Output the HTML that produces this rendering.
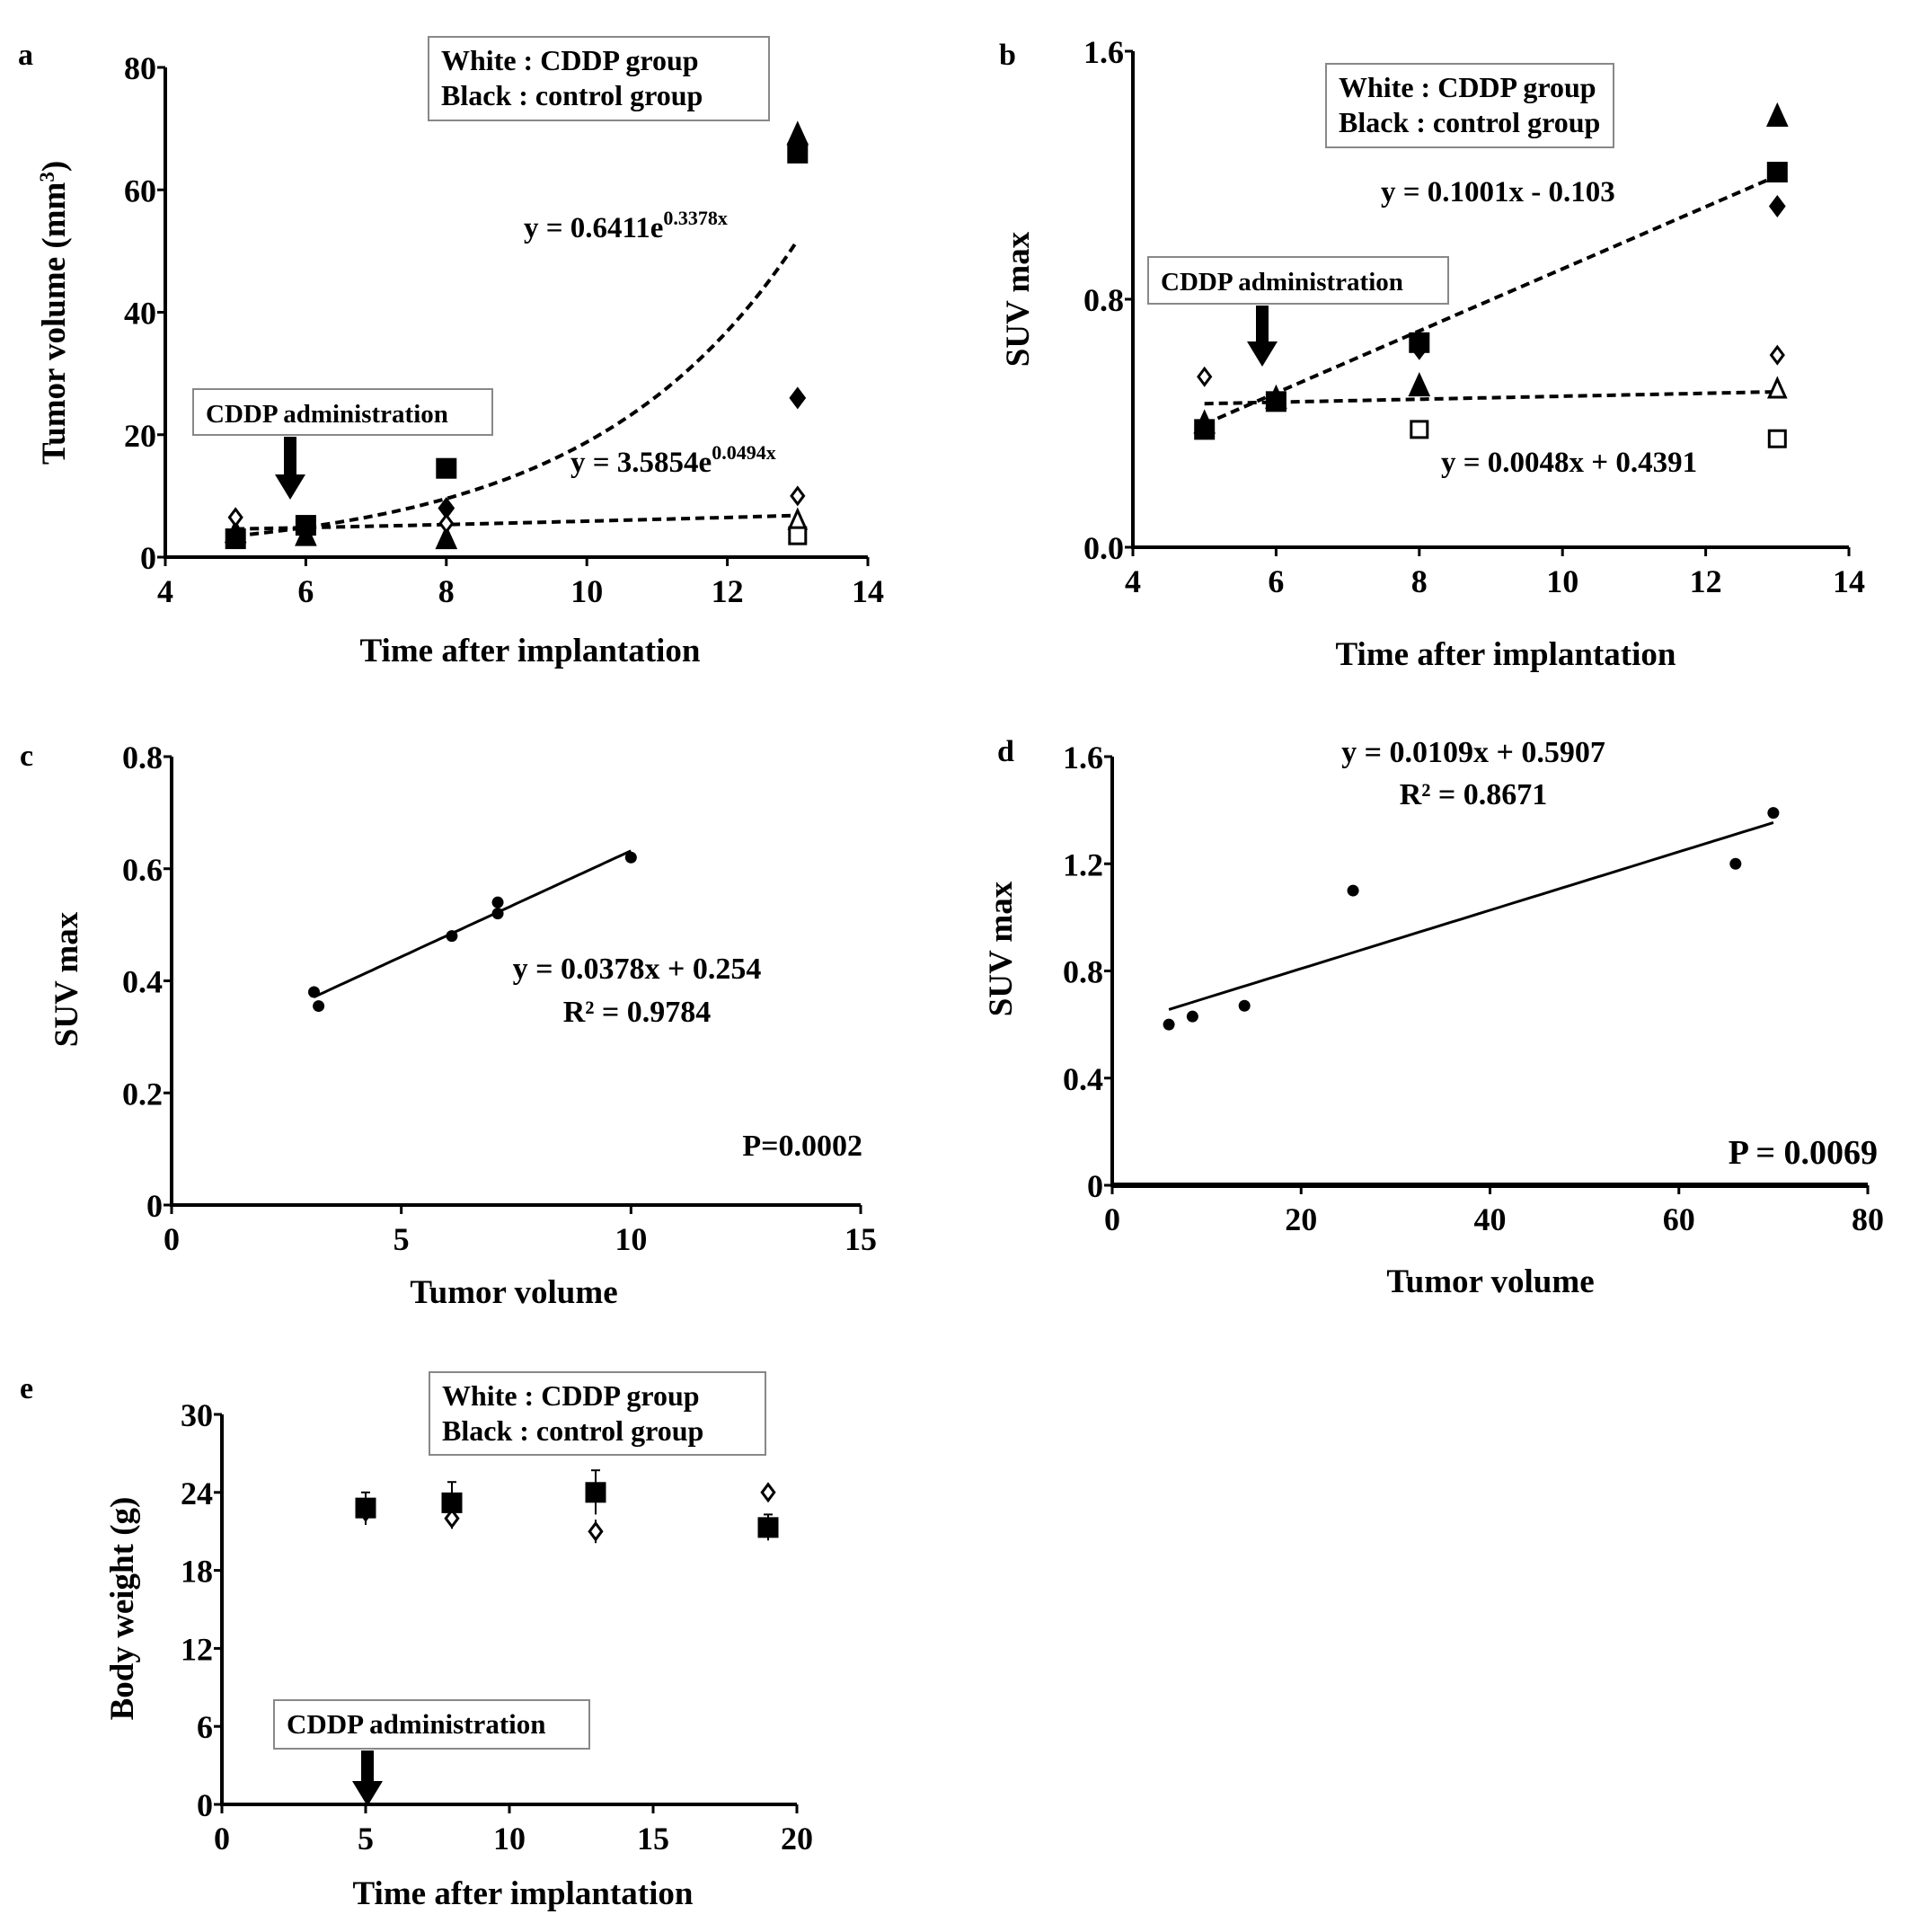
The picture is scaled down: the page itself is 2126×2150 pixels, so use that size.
<!DOCTYPE html>
<html><head><meta charset="utf-8">
<style>
html,body{margin:0;padding:0;background:#fff;}
svg{display:block;font-family:"Liberation Serif",serif;font-weight:bold;}
</style></head>
<body>
<svg id="fig" width="2126" height="2150" viewBox="0 0 2126 2150" xmlns="http://www.w3.org/2000/svg"></svg>
<script>
// ---- Panel a data ----
const aCtrlSquareX=[5,6,8,13];
const aCtrlSquareY=[3,5.2,14.5,66];
const aCtrlTriX=[5,6,8,13];
const aCtrlTriY=[4,3.5,3,69];
const aCtrlDiaX=[8,13];
const aCtrlDiaY=[8,26];
const aCddpDiaX=[5,8,13];
const aCddpDiaY=[6.5,5.5,10];
const aCddpTriX=[13];
const aCddpTriY=[6];
const aCddpSqX=[13];
const aCddpSqY=[3.5];
const aFit1=[0.6411,0.3378];
const aFit2=[3.5854,0.0494];
const aXTicks=[4,6,8,10,12,14];
const aYTicks=[0,20,40,60,80];
// ---- Panel b data ----
const bCtrlSquareX=[5,6,8,13];
const bCtrlSquareY=[0.38,0.47,0.66,1.21];
const bCtrlTriX=[5,6,8,13];
const bCtrlTriY=[0.40,0.48,0.52,1.39];
const bCtrlDiaX=[8,13];
const bCtrlDiaY=[0.64,1.10];
const bCddpDiaX=[5,13];
const bCddpDiaY=[0.55,0.62];
const bCddpTriX=[13];
const bCddpTriY=[0.51];
const bCddpSqX=[8,13];
const bCddpSqY=[0.38,0.35];
const bFit1=[0.1001,-0.103];
const bFit2=[0.0048,0.4391];
const bXTicks=[4,6,8,10,12,14];
const bYTicks=[0,0.8,1.6];
const bYLabels=["0.0","0.8","1.6"];
// ---- Panel c data ----
const cX=[3.1,3.2,6.1,7.1,7.1,10];
const cY=[0.38,0.355,0.48,0.54,0.52,0.62];
const cFit=[0.0378,0.254];
const cXTicks=[0,5,10,15];
const cYTicks=[0,0.2,0.4,0.6,0.8];
const cYLabels=["0","0.2","0.4","0.6","0.8"];
// ---- Panel d data ----
const dX=[6,8.5,14,25.5,66,70];
const dY=[0.6,0.63,0.67,1.1,1.2,1.39];
const dFit=[0.0109,0.5907];
const dXTicks=[0,20,40,60,80];
const dYTicks=[0,0.4,0.8,1.2,1.6];
const dYLabels=["0","0.4","0.8","1.2","1.6"];
// ---- Panel e data ----
const eX=[5,8,13,19];
const eCtrlY=[22.8,23.2,24.0,21.3];
const eCtrlErr=[1.2,1.6,1.7,1.0];
const eCddpY=[22.5,22.0,21.0,24.0];
const eCddpErr=[1.0,0.8,0.9,0.5];
const eXTicks=[0,5,10,15,20];
const eYTicks=[0,6,12,18,24,30];

const NS="http://www.w3.org/2000/svg";
const svg=document.getElementById('fig');
function el(tag,attrs,parent,txt){const e=document.createElementNS(NS,tag);for(const k in attrs)e.setAttribute(k,attrs[k]);if(txt!==undefined)e.textContent=txt;(parent||svg).appendChild(e);return e;}
function scale(d0,d1,r0,r1){return v=>r0+(v-d0)/(d1-d0)*(r1-r0);}

function axes(g,sx,sy,x0,x1,y0,y1,xt,yt,xl,yl,xw){
  const ax=el('line',{x1:sx(x0),y1:sy(y0),x2:sx(x1),y2:sy(y0),stroke:'#000','stroke-width':xw||4},g);
  
  const ay=el('line',{x1:sx(x0),y1:sy(y0)+2,x2:sx(x0),y2:sy(y1),stroke:'#000','stroke-width':4},g);
  
  xt.forEach((v,i)=>{el('line',{x1:sx(v),y1:sy(y0),x2:sx(v),y2:sy(y0)+10,stroke:'#000','stroke-width':3},g);
    const t=el('text',{x:sx(v),y:sy(y0)+50,'font-size':36,'text-anchor':'middle'},g,xl?xl[i]:String(v));
    });
  yt.forEach((v,i)=>{el('line',{x1:sx(x0)-9,y1:sy(v),x2:sx(x0),y2:sy(v),stroke:'#000','stroke-width':3},g);
    const t=el('text',{x:sx(x0)-10,y:sy(v)+13,'font-size':36,'text-anchor':'end'},g,yl?yl[i]:String(v));
    });
}
function marker(g,type,fill,x,y,s){
  s=s||10;let m;
  if(type==='sq')m=el('rect',{x:x-s,y:y-s,width:2*s,height:2*s,fill:fill?'#000':'#fff',stroke:'#000','stroke-width':3},g);
  else if(type==='tri')m=el('polygon',{points:`${x},${y-s-2} ${x+s},${y+s} ${x-s},${y+s}`,fill:fill?'#000':'#fff',stroke:'#000','stroke-width':3},g);
  else if(type==='dia')m=el('polygon',{points:`${x},${y-s} ${x+s*0.75},${y} ${x},${y+s} ${x-s*0.75},${y}`,fill:fill?'#000':'#fff',stroke:'#000','stroke-width':3},g);
  else m=el('circle',{cx:x,cy:y,r:6.5,fill:'#000'},g);
  
  
}
function series(g,type,fill,xs,ys,sx,sy,s){xs.forEach((v,i)=>marker(g,type,fill,sx(v),sy(ys[i]),s));}
function curve(g,f,xa,xb,sx,sy,dash,name){
  let d='';for(let i=0;i<=60;i++){const x=xa+(xb-xa)*i/60;d+=(i?'L':'M')+sx(x).toFixed(1)+','+sy(f(x)).toFixed(1);}
  const p=el('path',{d:d,fill:'none',stroke:'#000','stroke-width':dash?4:3,'stroke-dasharray':dash?'10,6':'none'},g);
  
}
function box(g,x,y,w,h,lines,name,fs){
  const b=el('rect',{x:x,y:y,width:w,height:h,fill:'#fff',stroke:'#888','stroke-width':2},g);
  
  lines.forEach((t,i)=>{const tt=el('text',{x:x+14,y:y+37+i*39,'font-size':fs||32},g,t);
    });
}
function arrow(g,x,y0,y1){
  const a=el('polygon',{points:`${x-7},${y0} ${x+7},${y0} ${x+7},${y1-28} ${x+17},${y1-28} ${x},${y1} ${x-17},${y1-28} ${x-7},${y1-28}`,fill:'#000'},g);
  
}
function txt(g,x,y,s,fs,anchor,name,rot){
  const a={x:x,y:y,'font-size':fs,'text-anchor':anchor||'start'};
  if(rot)a.transform=`rotate(-90 ${x} ${y})`;
  const t=el('text',a,g,s);return t;
}
function panel(name){const g=el('g',{});return g;}

// ===== Panel a =====
(function(){
  const g=panel('panel-a');
  const sx=scale(4,14,184,966), sy=scale(0,80,620,75);
  txt(g,20,72,'a',34,'start','panel-label');
  axes(g,sx,sy,4,14,0,80,aXTicks,aYTicks);
  curve(g,x=>aFit1[0]*Math.exp(aFit1[1]*x),5,13,sx,sy,true,'fit-curve-control');
  curve(g,x=>aFit2[0]*Math.exp(aFit2[1]*x),5,13,sx,sy,true,'fit-curve-cddp');
  series(g,'sq',true,aCtrlSquareX,aCtrlSquareY,sx,sy);
  series(g,'tri',true,aCtrlTriX,aCtrlTriY,sx,sy);
  series(g,'dia',true,aCtrlDiaX,aCtrlDiaY,sx,sy);
  series(g,'dia',false,aCddpDiaX,aCddpDiaY,sx,sy,9);
  series(g,'tri',false,aCddpTriX,aCddpTriY,sx,sy,9);
  series(g,'sq',false,aCddpSqX,aCddpSqY,sx,sy,9);
  box(g,477,41,379,93,['White : CDDP group','Black : control group'],'legend');
  box(g,215,433,333,51,['CDDP administration'],'cddp-label',29);
  arrow(g,323,486,556);
  const t1=txt(g,583,264,'y = 0.6411e',33,'start','equation-exponential-control');
  el('tspan',{dy:-14,'font-size':22},t1,'0.3378x');
  const t2=txt(g,635,525,'y = 3.5854e',33,'start','equation-exponential-cddp');
  el('tspan',{dy:-14,'font-size':22},t2,'0.0494x');
  txt(g,590,736,'Time after implantation',37,'middle','x-axis-title');
  const yt=txt(g,72,348,'Tumor volume (mm',37,'middle','y-axis-title',true);
  el('tspan',{dy:-12,'font-size':23},yt,'3');el('tspan',{dy:12},yt,')');
})();

// ===== Panel b =====
(function(){
  const g=panel('panel-b');
  const sx=scale(4,14,1261,2058), sy=scale(0,1.6,609,57);
  txt(g,1112,72,'b',34,'start','panel-label');
  axes(g,sx,sy,4,14,0,1.6,bXTicks,bYTicks,null,bYLabels);
  curve(g,x=>bFit1[0]*x+bFit1[1],5,13,sx,sy,true,'fit-line-control');
  curve(g,x=>bFit2[0]*x+bFit2[1],5,13,sx,sy,true,'fit-line-cddp');
  series(g,'sq',true,bCtrlSquareX,bCtrlSquareY,sx,sy);
  series(g,'tri',true,bCtrlTriX,bCtrlTriY,sx,sy);
  series(g,'dia',true,bCtrlDiaX,bCtrlDiaY,sx,sy);
  series(g,'dia',false,bCddpDiaX,bCddpDiaY,sx,sy,9);
  series(g,'tri',false,bCddpTriX,bCddpTriY,sx,sy,9);
  series(g,'sq',false,bCddpSqX,bCddpSqY,sx,sy,9);
  box(g,1476,71,320,93,['White : CDDP group','Black : control group'],'legend');
  box(g,1278,286,334,52,['CDDP administration'],'cddp-label',29);
  arrow(g,1405,340,408);
  txt(g,1537,224,'y = 0.1001x - 0.103',33,'start','equation-linear-control');
  txt(g,1604,525,'y = 0.0048x + 0.4391',33,'start','equation-linear-cddp');
  txt(g,1676,740,'Time after implantation',37,'middle','x-axis-title');
  txt(g,1145,333,'SUV max',37,'middle','y-axis-title',true);
})();

// ===== Panel c =====
(function(){
  const g=panel('panel-c');
  const sx=scale(0,15,191,958), sy=scale(0,0.8,1341,842);
  txt(g,22,852,'c',34,'start','panel-label');
  axes(g,sx,sy,0,15,0,0.8,cXTicks,cYTicks,null,cYLabels);
  curve(g,x=>cFit[0]*x+cFit[1],3.1,10,sx,sy,false,'regression-line');
  series(g,'dot',true,cX,cY,sx,sy);
  txt(g,709,1089,'y = 0.0378x + 0.254',34,'middle','equation');
  txt(g,709,1137,'R² = 0.9784',34,'middle','r-squared');
  txt(g,960,1286,'P=0.0002',34,'end','p-value');
  txt(g,572,1450,'Tumor volume',37,'middle','x-axis-title');
  txt(g,86,1090,'SUV max',37,'middle','y-axis-title',true);
})();

// ===== Panel d =====
(function(){
  const g=panel('panel-d');
  const sx=scale(0,80,1238,2079), sy=scale(0,1.6,1319,842);
  txt(g,1110,847,'d',34,'start','panel-label');
  axes(g,sx,sy,0,80,0,1.6,dXTicks,dYTicks,null,dYLabels,6);
  curve(g,x=>dFit[0]*x+dFit[1],6,70,sx,sy,false,'regression-line');
  series(g,'dot',true,dX,dY,sx,sy);
  txt(g,1640,848,'y = 0.0109x + 0.5907',34,'middle','equation');
  txt(g,1640,895,'R² = 0.8671',34,'middle','r-squared');
  txt(g,2090,1295,'P = 0.0069',38,'end','p-value');
  txt(g,1659,1438,'Tumor volume',37,'middle','x-axis-title');
  txt(g,1126,1056,'SUV max',37,'middle','y-axis-title',true);
})();

// ===== Panel e =====
(function(){
  const g=panel('panel-e');
  const sx=scale(0,20,247,887), sy=scale(0,30,2008,1574);
  txt(g,22,1556,'e',34,'start','panel-label');
  axes(g,sx,sy,0,20,0,30,eXTicks,eYTicks);
  eX.forEach((v,i)=>{
    el('line',{x1:sx(v),y1:sy(eCtrlY[i]+eCtrlErr[i]),x2:sx(v),y2:sy(eCtrlY[i]-eCtrlErr[i]),stroke:'#000','stroke-width':2},g);
    el('line',{x1:sx(v)-5,y1:sy(eCtrlY[i]+eCtrlErr[i]),x2:sx(v)+5,y2:sy(eCtrlY[i]+eCtrlErr[i]),stroke:'#000','stroke-width':2},g);
    el('line',{x1:sx(v),y1:sy(eCddpY[i]+eCddpErr[i]),x2:sx(v),y2:sy(eCddpY[i]-eCddpErr[i]),stroke:'#000','stroke-width':2},g);
  });
  series(g,'dia',false,eX,eCddpY,sx,sy,9);
  series(g,'sq',true,eX,eCtrlY,sx,sy);
  box(g,478,1527,374,92,['White : CDDP group','Black : control group'],'legend');
  box(g,305,1892,351,54,['CDDP administration'],'cddp-label',31);
  arrow(g,409,1948,2010);
  txt(g,582,2119,'Time after implantation',37,'middle','x-axis-title');
  txt(g,148,1790,'Body weight (g)',37,'middle','y-axis-title',true);
})();
</script>
</body></html>
